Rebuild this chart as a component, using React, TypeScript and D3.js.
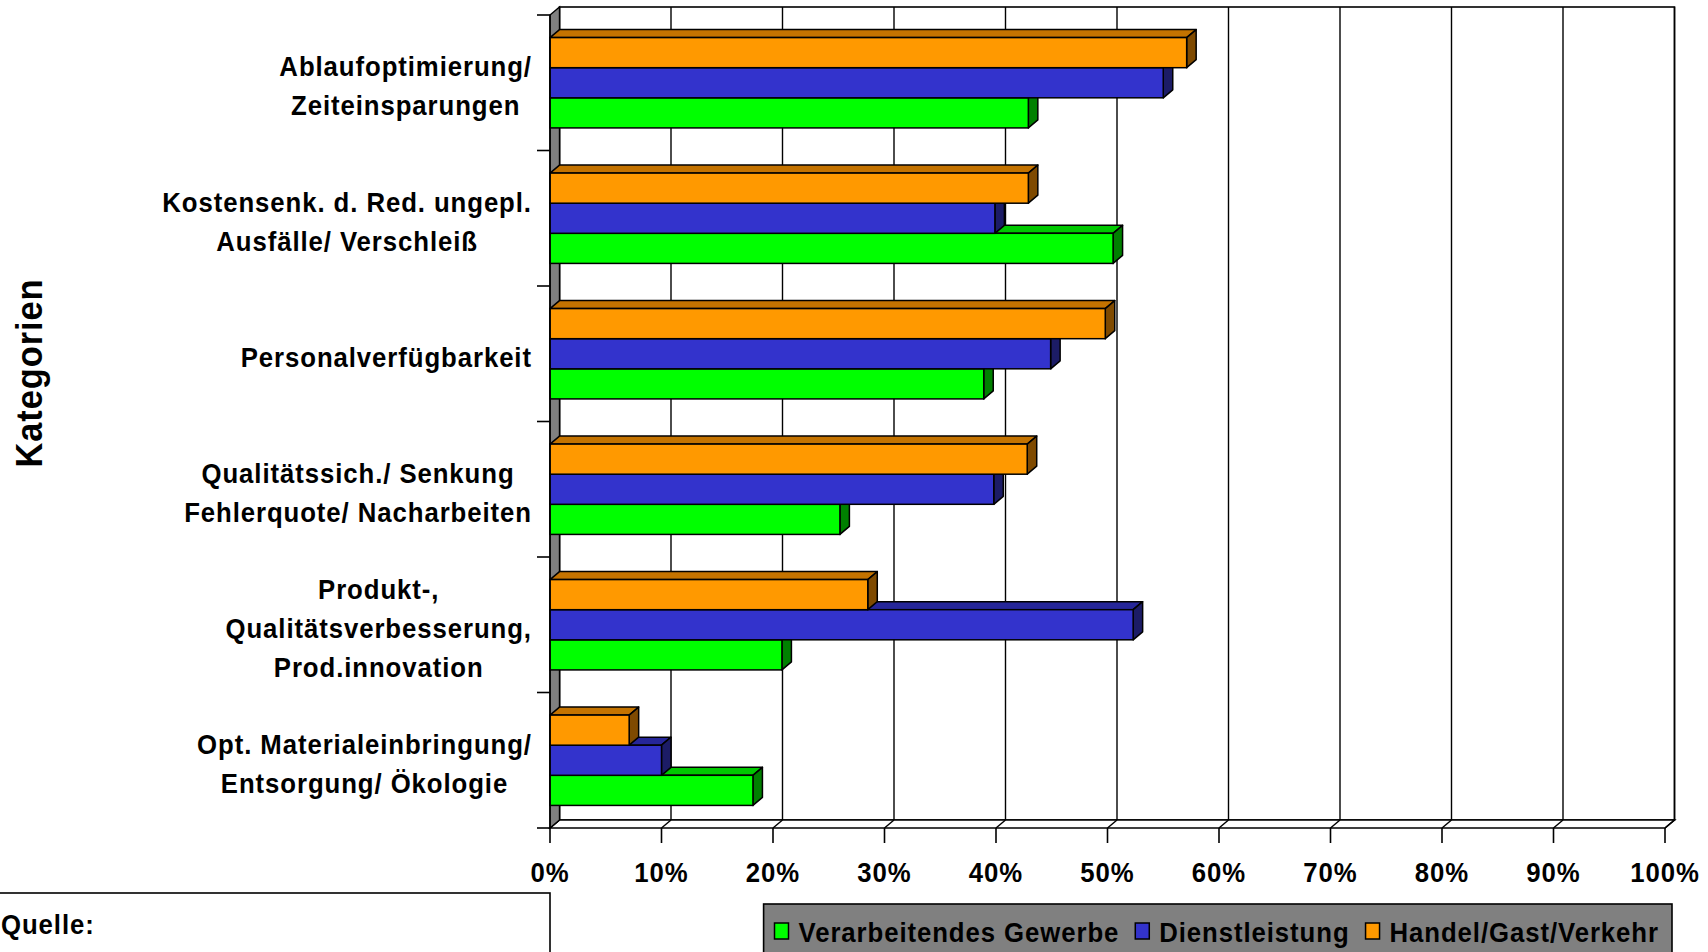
import React, { useEffect, useRef } from "react";
import * as d3 from "d3";

// ---------- data ----------
const categoryLines: string[][] = [
  ["Ablaufoptimierung/", "Zeiteinsparungen"],
  ["Kostensenk. d. Red. ungepl.", "Ausfälle/ Verschleiß"],
  ["Personalverfügbarkeit"],
  ["Qualitätssich./ Senkung", "Fehlerquote/ Nacharbeiten"],
  ["Produkt-,", "Qualitätsverbesserung,", "Prod.innovation"],
  ["Opt. Materialeinbringung/", "Entsorgung/ Ökologie"],
];
const seriesNames = ["Verarbeitendes Gewerbe", "Dienstleistung", "Handel/Gast/Verkehr"];
const verarbeitendesGewerbe = [42.9, 50.5, 38.9, 26.0, 20.8, 18.2];
const dienstleistung = [55.0, 39.9, 44.9, 39.8, 52.3, 10.0];
const handelGastVerkehr = [57.1, 42.9, 49.8, 42.8, 28.5, 7.1];
const xTickValues = [0, 10, 20, 30, 40, 50, 60, 70, 80, 90, 100];
const yAxisTitle = "Kategorien";
const sourceTitle = "Quelle:";

const seriesValues = [verarbeitendesGewerbe, dienstleistung, handelGastVerkehr];
const frontColors = ["#00FF00", "#3333CC", "#FF9900"];
const topColors = ["#00C800", "#262699", "#C47300"];
const sideColors = ["#008000", "#1C1C66", "#7F4A00"];

const W = 1708;
const H = 952;
const FONT = "'Liberation Sans', Arial, sans-serif";
const FS = 28;
const SX = 0.92;
const LS = 1.0;

export default function App() {
  const ref = useRef<SVGSVGElement>(null);

  useEffect(() => {
    const svg = d3.select(ref.current);
    svg.selectAll("*").remove();

    const left = 550, right = 1665, top = 15, bottom = 828;
    const dx = 9.5, dy = 8;

    const x = d3.scaleLinear().domain([0, 100]).range([left, right]);
    const y = d3
      .scaleBand<number>()
      .domain(d3.range(categoryLines.length))
      .range([top, bottom]);
    const bw = y.bandwidth() / 4.5;
    const sub = d3
      .scaleBand<number>()
      .domain([2, 1, 0])
      .range([0.75 * bw, 3.75 * bw]);

    const g = svg.append("g");

    const styleText = (sel: any, size = FS) =>
      sel
        .style("font-family", FONT)
        .style("font-weight", "bold")
        .style("font-size", `${size}px`)
        .style("letter-spacing", `${LS}px`);

    // back wall
    g.append("rect")
      .attr("x", x(0) + dx)
      .attr("y", top - dy)
      .attr("width", x(100) - x(0))
      .attr("height", bottom - top)
      .attr("fill", "#fff")
      .attr("stroke", "#000")
      .attr("stroke-width", 1.6);

    // gridlines on back wall
    g.selectAll(".grid")
      .data(xTickValues)
      .enter()
      .append("line")
      .attr("x1", (d) => x(d) + dx)
      .attr("x2", (d) => x(d) + dx)
      .attr("y1", top - dy)
      .attr("y2", bottom - dy)
      .attr("stroke", "#000")
      .attr("stroke-width", 1.4);

    // floor
    const floorPts: [number, number][] = [
      [x(0), bottom],
      [x(100), bottom],
      [x(100) + dx, bottom - dy],
      [x(0) + dx, bottom - dy],
    ];
    g.append("polygon")
      .attr("points", floorPts.map((p) => p.join(",")).join(" "))
      .attr("fill", "#fff")
      .attr("stroke", "#000")
      .attr("stroke-width", 1.6);
    g.selectAll(".floorgrid")
      .data(xTickValues)
      .enter()
      .append("line")
      .attr("x1", (d) => x(d))
      .attr("x2", (d) => x(d) + dx)
      .attr("y1", bottom)
      .attr("y2", bottom - dy)
      .attr("stroke", "#000")
      .attr("stroke-width", 1.4);

    // side wall
    const sidePts: [number, number][] = [
      [x(0), top],
      [x(0) + dx, top - dy],
      [x(0) + dx, bottom - dy],
      [x(0), bottom],
    ];
    g.append("polygon")
      .attr("points", sidePts.map((p) => p.join(",")).join(" "))
      .attr("fill", "#808080")
      .attr("stroke", "#000")
      .attr("stroke-width", 1.4);

    // bars
    const bars = g.append("g");
    categoryLines.forEach((_, ci) => {
      [0, 1, 2].forEach((si) => {
        const v = seriesValues[si][ci];
        const yt = (y(ci) as number) + (sub(si) as number);
        const h = sub.bandwidth();
        const x0 = x(0);
        const x1 = x(v);
        const topPts = [
          [x0, yt],
          [x1, yt],
          [x1 + dx, yt - dy],
          [x0 + dx, yt - dy],
        ];
        const sidePts2 = [
          [x1, yt],
          [x1 + dx, yt - dy],
          [x1 + dx, yt + h - dy],
          [x1, yt + h],
        ];
        bars.append("polygon")
          .attr("points", topPts.map((p) => p.join(",")).join(" "))
          .attr("fill", topColors[si])
          .attr("stroke", "#000")
          .attr("stroke-width", 1.5)
          .attr("stroke-linejoin", "round");
        bars.append("polygon")
          .attr("points", sidePts2.map((p) => p.join(",")).join(" "))
          .attr("fill", sideColors[si])
          .attr("stroke", "#000")
          .attr("stroke-width", 1.5)
          .attr("stroke-linejoin", "round");
        bars.append("rect")
          .attr("x", x0)
          .attr("y", yt)
          .attr("width", x1 - x0)
          .attr("height", h)
          .attr("fill", frontColors[si])
          .attr("stroke", "#000")
          .attr("stroke-width", 1.5);
      });
    });

    // y axis line + ticks
    g.append("line")
      .attr("x1", x(0)).attr("x2", x(0))
      .attr("y1", top).attr("y2", bottom)
      .attr("stroke", "#000").attr("stroke-width", 1.6);
    const yTickPos = [...d3.range(categoryLines.length).map((i) => y(i) as number), bottom];
    g.selectAll(".ytick")
      .data(yTickPos)
      .enter()
      .append("line")
      .attr("x1", x(0) - 13).attr("x2", x(0))
      .attr("y1", (d) => d).attr("y2", (d) => d)
      .attr("stroke", "#000").attr("stroke-width", 1.6);

    // x axis ticks + labels
    g.selectAll(".xtick")
      .data(xTickValues)
      .enter()
      .append("line")
      .attr("x1", (d) => x(d)).attr("x2", (d) => x(d))
      .attr("y1", bottom).attr("y2", bottom + 15)
      .attr("stroke", "#000").attr("stroke-width", 1.6);
    const xl = g.selectAll(".xlabel")
      .data(xTickValues)
      .enter()
      .append("text")
      .attr("transform", (d) => `translate(${x(d)},882) scale(${SX},1)`)
      .attr("text-anchor", "middle")
      .text((d) => `${d}%`);
    styleText(xl);

    // category labels
    const labelRight = 532;
    const lineGap = 39;
    categoryLines.forEach((lines, ci) => {
      const cy = (y(ci) as number) + y.bandwidth() / 2;
      const n = lines.length;
      const items = lines.map((ln, li) => {
        const t = g.append("text").attr("text-anchor", "middle").text(ln);
        styleText(t);
        return { t, yy: cy + 13 + (li - (n - 1) / 2) * lineGap };
      });
      const maxW =
        (d3.max(items, (it) => (it.t.node() as SVGTextElement).getComputedTextLength()) || 0) * SX;
      items.forEach((it) =>
        it.t.attr("transform", `translate(${labelRight - maxW / 2},${it.yy}) scale(${SX},1)`)
      );
    });

    // y axis title
    const yt = g.append("text")
      .attr("transform", "translate(42,373) rotate(-90) scale(0.93,1)")
      .attr("text-anchor", "middle")
      .text(yAxisTitle);
    styleText(yt, 37);

    // source box
    g.append("rect")
      .attr("x", -4).attr("y", 893)
      .attr("width", 554).attr("height", 80)
      .attr("fill", "#fff").attr("stroke", "#000").attr("stroke-width", 1.6);
    const st = g.append("text")
      .attr("transform", `translate(1,934) scale(${SX},1)`)
      .text(sourceTitle);
    styleText(st);

    // legend
    const lg = g.append("g");
    lg.append("rect")
      .attr("x", 763.6).attr("y", 904)
      .attr("width", 908.4).attr("height", 70)
      .attr("fill", "#808080").attr("stroke", "#000").attr("stroke-width", 1.6);
    let cx = 774.5;
    seriesNames.forEach((name, si) => {
      lg.append("rect")
        .attr("x", cx).attr("y", 923)
        .attr("width", 14).attr("height", 16)
        .attr("fill", frontColors[si]).attr("stroke", "#000").attr("stroke-width", 1.5);
      const t = lg.append("text")
        .attr("transform", `translate(${cx + 24},942) scale(${SX},1)`)
        .text(name);
      styleText(t);
      const tw = (t.node() as SVGTextElement).getComputedTextLength() * SX;
      cx = cx + 24 + tw + 16;
    });
  }, []);

  return (
    <svg
      ref={ref}
      width={W}
      height={H}
      style={{ position: "absolute", left: 0, top: 0, background: "#fff" }}
    />
  );
}
